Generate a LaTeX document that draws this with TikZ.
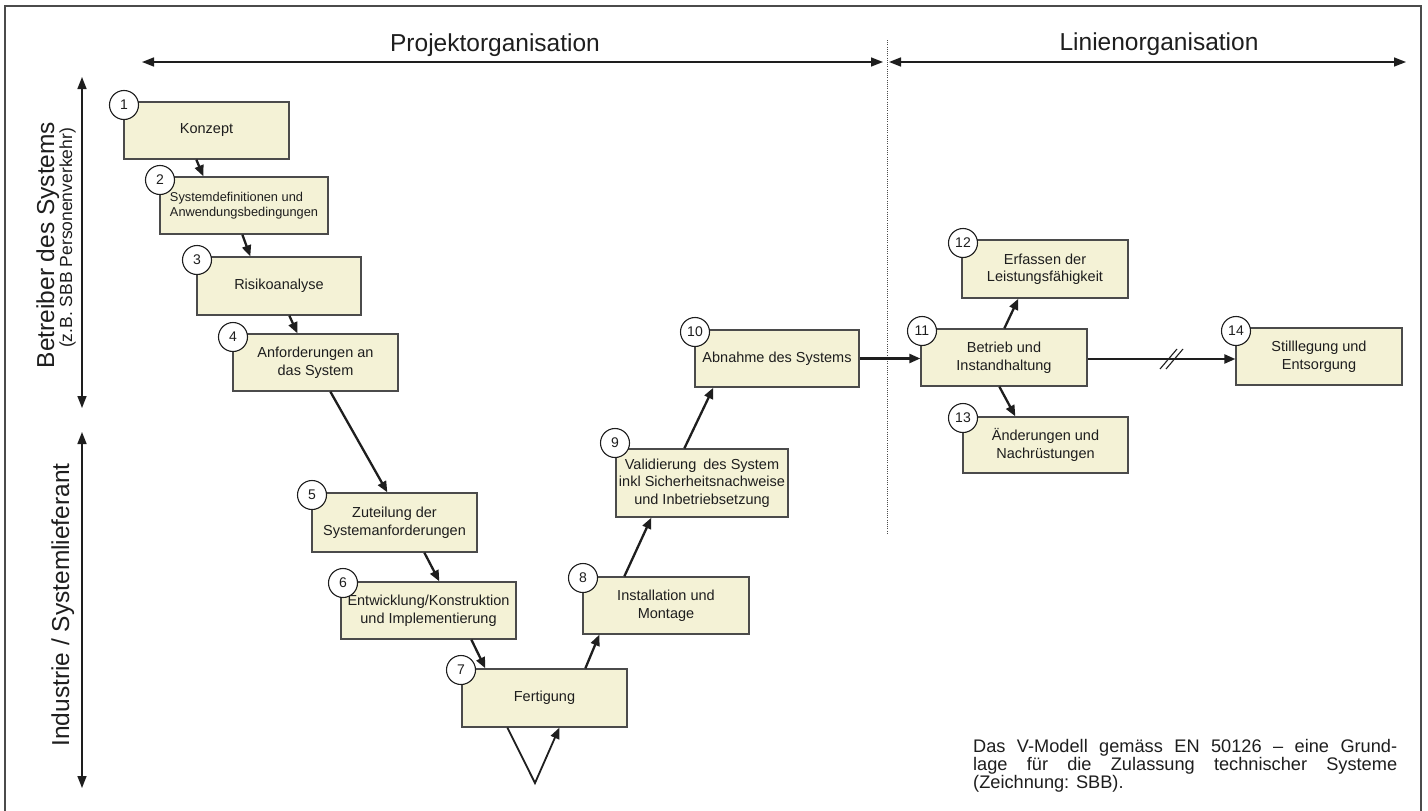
\documentclass[tikz,border=0pt]{standalone}
\usepackage{fontspec}
\setmainfont{Liberation Sans}
\usetikzlibrary{arrows.meta}
\definecolor{boxfill}{RGB}{244,242,214}
\definecolor{boxdraw}{RGB}{75,75,75}
\definecolor{ink}{RGB}{30,30,30}
\begin{document}
\begin{tikzpicture}[x=1pt,y=-1pt,
  box/.style={draw=boxdraw, line width=1.3pt, fill=boxfill, inner sep=0pt, align=center,
              font=\fontsize{14.5}{17.5}\selectfont, text=ink},
  num/.style={circle, draw=ink, line width=1.1pt, fill=white, minimum size=29pt, inner sep=0pt,
              font=\fontsize{14}{14}\selectfont, text=ink},
  conn/.style={draw=ink, line width=2.3pt, -{Triangle[length=11pt,width=9pt]}},
  axis/.style={draw=ink, line width=1.6pt, {Triangle[length=12pt,width=9pt]}-{Triangle[length=12pt,width=9pt]}},
  head/.style={font=\fontsize{24.5}{28}\selectfont, text=ink},
  side/.style={font=\fontsize{24.5}{28}\selectfont, text=ink, rotate=90, anchor=base},
  sidesmall/.style={font=\fontsize{17.5}{20}\selectfont, text=ink, rotate=90, anchor=base},
]
\useasboundingbox (0,0) rectangle (1428,811);
\fill[white] (0,0) rectangle (1428,811);
% frame
\draw[boxdraw, line width=1.8pt] (5,811) -- (5,6) -- (1421,6) -- (1421,811);

% headers
\node[head, anchor=base] (hproj) at (495,51) {Projektorganisation};
\node[head, anchor=base] (hlin) at (1159,50) {Linienorganisation};
\draw[axis] (142,62) -- (883,62);
\draw[axis] (889,62) -- (1406,62);
\draw[boxdraw, line width=0.9pt, dash pattern=on 1pt off 1.2pt] (887,40) -- (887,535);

% side labels
\node[side] (lbetr) at (54,245) {Betreiber des Systems};
\node[sidesmall] (lsbb) at (72,238) {(z.B. SBB Personenverkehr)};
\node[side] (lind) at (69,605) {Industrie / Systemlieferant};
\draw[axis] (82,77) -- (82,408);
\draw[axis] (82,432) -- (82,788);

% boxes
\node[box, minimum width=165pt, minimum height=57pt] (b1) at (206.5,130.5) {Konzept};
\node[box, minimum width=168pt, minimum height=57pt, align=left,
      font=\fontsize{12.8}{15}\selectfont] (b2) at (244,205.5) {Systemdefinitionen und\\Anwendungsbedingungen};
\node[box, minimum width=164pt, minimum height=58pt] (b3) at (279,286) {Risikoanalyse};
\node[box, minimum width=165pt, minimum height=57pt] (b4) at (315.5,362.5) {Anforderungen an\\das System};
\node[box, minimum width=165pt, minimum height=59pt] (b5) at (394.5,522.5) {Zuteilung der\\Systemanforderungen};
\node[box, minimum width=175pt, minimum height=57pt] (b6) at (428.5,610.5) {Entwicklung/Konstruktion\\und Implementierung};
\node[box, minimum width=165pt, minimum height=58pt] (b7) at (544.5,698) {Fertigung};
\node[box, minimum width=166pt, minimum height=57pt] (b8) at (666,605.5) {Installation und\\Montage};
\node[box, minimum width=172pt, minimum height=68pt] (b9) at (702,483) {Validierung\hspace{3pt} des System\\inkl Sicherheitsnachweise\\und Inbetriebsetzung};
\node[box, minimum width=164pt, minimum height=57pt] (b10) at (777,358.5) {Abnahme des Systems};
\node[box, minimum width=166pt, minimum height=57pt] (b11) at (1004,357.5) {Betrieb und\\Instandhaltung};
\node[box, minimum width=166pt, minimum height=58pt] (b12) at (1045,269) {Erfassen der\\Leistungsfähigkeit};
\node[box, minimum width=165pt, minimum height=56pt] (b13) at (1045.5,445) {Änderungen und\\Nachrüstungen};
\node[box, minimum width=166pt, minimum height=57pt] (b14) at (1319,356.5) {Stilllegung und\\Entsorgung};

% number circles
\node[num] (c1) at (124,105) {1};
\node[num] (c2) at (160,180) {2};
\node[num] (c3) at (197,260) {3};
\node[num] (c4) at (233,337) {4};
\node[num] (c5) at (312,495) {5};
\node[num] (c6) at (343,583) {6};
\node[num] (c7) at (461,670) {7};
\node[num] (c8) at (583,578) {8};
\node[num] (c9) at (615,443) {9};
\node[num] (c10) at (695,332) {10};
\node[num] (c11) at (922,331) {11};
\node[num] (c12) at (963,243) {12};
\node[num] (c13) at (963,418) {13};
\node[num] (c14) at (1236,331) {14};

% connectors
\draw[conn] ([xshift=73pt]b1.south west) -- ([xshift=44pt]b2.north west);
\draw[conn] ([xshift=83pt]b2.south west) -- ([xshift=54pt]b3.north west);
\draw[conn] ([xshift=93pt]b3.south west) -- ([xshift=65pt]b4.north west);
\draw[conn] ([xshift=98pt]b4.south west) -- ([xshift=76pt]b5.north west);
\draw[conn] ([xshift=113pt]b5.south west) -- ([xshift=99pt]b6.north west);
\draw[conn] ([xshift=131pt]b6.south west) -- ([xshift=24pt]b7.north west);
\coordinate (vtip) at (535,783);
\draw[conn, line width=1.8pt] ([xshift=46pt]b7.south west) -- (vtip) -- ([xshift=98pt]b7.south west);
\draw[conn] ([xshift=124pt]b7.north west) -- ([xshift=17pt]b8.south west);
\draw[conn] ([xshift=42pt]b8.north west) -- ([xshift=36pt]b9.south west);
\draw[conn] ([xshift=69pt]b9.north west) -- ([xshift=19pt]b10.south west);
\draw[conn] (b10.east) -- (b10.east -| b11.west);
\draw[conn] ([xshift=84pt]b11.north west) -- ([xshift=57pt]b12.south west);
\draw[conn] ([xshift=79pt]b11.south west) -- ([xshift=53pt]b13.north west);
\draw[conn] ([yshift=-1.5pt]b11.east) -- ([yshift=-1.5pt]b11.east -| b14.west);
\coordinate (brk) at (1171,359);
\draw[ink, line width=1.1pt] ([xshift=-11pt,yshift=-10pt]brk) -- ([xshift=6pt,yshift=10pt]brk);
\draw[ink, line width=1.1pt] ([xshift=-5pt,yshift=-10pt]brk) -- ([xshift=12pt,yshift=10pt]brk);

% caption
\node[anchor=north west, inner sep=0pt, align=left, text=ink,
      font=\fontsize{18.2}{18}\selectfont] (cap) at (973,739)
  {\makebox[424pt][s]{Das V-Modell gemäss EN 50126 – eine Grund-}\\
   \makebox[424pt][s]{lage für die Zulassung technischer Systeme}\\
   (Zeichnung: SBB).};
\end{tikzpicture}
\end{document}
